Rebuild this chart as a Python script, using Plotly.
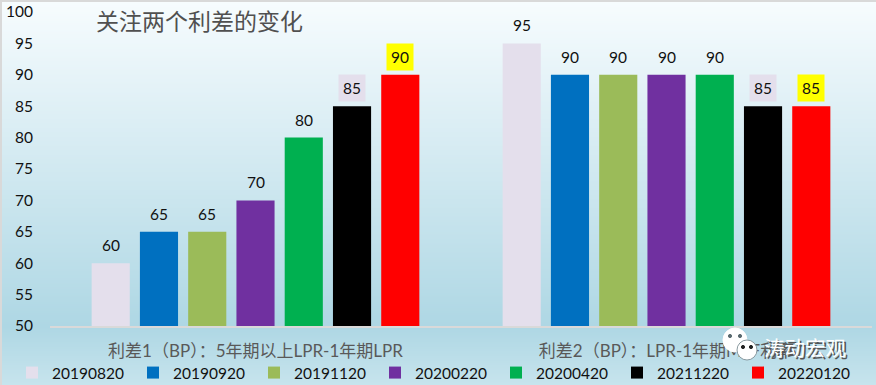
import plotly.graph_objects as go

categories = ["利差1（BP）：5年期以上LPR-1年期LPR", "利差2（BP）：LPR-1年期MLF利率"]
dates = ["20190820", "20190920", "20191120", "20200220", "20200420", "20211220", "20220120"]
values = [[60, 95], [65, 90], [65, 90], [70, 90], [80, 90], [85, 85], [90, 85]]
colors = ["#E4DFEC", "#0070C0", "#9BBB59", "#7030A0", "#00B050", "#000000", "#FF0000"]
label_bg = {5: "#E4DFEC", 6: "#FFFF00"}
title = "关注两个利差的变化"
watermark = "涛动宏观"
W, H = 876, 385
L, R, T, B = 50, 872, 12, 326
FONT = "Lato, Noto Sans CJK SC, sans-serif"
CJK = "Noto Sans CJK SC, sans-serif"
INK = "#111111"


def mix(a, b, t):
    return "rgb(%d,%d,%d)" % tuple(round(a[i] + (b[i] - a[i]) * t) for i in range(3))


def px(x):
    return x / W


def py(y):
    return 1 - y / H


fig = go.Figure()
pitch = 48.3 / ((R - L) / 2)
for i, (d, v, c) in enumerate(zip(dates, values, colors)):
    fig.add_trace(go.Bar(name=d, x=categories, y=v, marker=dict(color=c, line_width=0)))
    for k, n in enumerate(v):
        fig.add_annotation(
            x=k + (i - 3) * pitch, y=n, xref="x", yref="y", text=str(n),
            showarrow=False, yshift=18, borderpad=4,
            bgcolor=label_bg.get(i, "rgba(0,0,0,0)"),
            font=dict(family=FONT, size=15.5, color=INK),
        )

# background gradient and frame
shapes = []
top, mid, end = (247, 252, 254), (174, 215, 228), (199, 228, 237)
for y in range(H):
    col = mix(top, mid, y / B) if y < B else mix(mid, end, (y - B) / (H - B))
    shapes.append(dict(type="rect", xref="paper", yref="paper", layer="below", line_width=0,
                       x0=0, x1=1, y0=py(y + 1), y1=py(y), fillcolor=col))
shapes.append(dict(type="rect", xref="paper", yref="paper", layer="below", line_width=0,
                   x0=0, x1=1, y0=py(2), y1=1, fillcolor="#D9D9D9"))
shapes.append(dict(type="rect", xref="paper", yref="paper", layer="below", line_width=0,
                   x0=0, x1=px(2), y0=0, y1=1, fillcolor="#D9D9D9"))


def circle(cx, cy, r, fill, line=None):
    return dict(type="circle", xref="paper", yref="paper", layer="above",
                x0=px(cx - r), x1=px(cx + r), y0=py(cy + r), y1=py(cy - r), fillcolor=fill,
                line=dict(color=line or fill, width=1))


# watermark icon
shapes += [circle(735, 340, 12, "#FFFFFF"), circle(747, 350, 10, "#FFFFFF", "#8A9AA0"),
           circle(730, 336, 1.6, "#5A6A70"), circle(740, 336, 1.6, "#5A6A70"),
           circle(743, 347, 1.6, "#222222"), circle(751, 347, 1.6, "#222222")]
fig.update_layout(shapes=shapes)

fig.add_annotation(text=title, xref="paper", yref="paper", x=px(94), y=py(20),
                   xanchor="left", yanchor="middle", showarrow=False,
                   font=dict(family=CJK, size=23, color="#505050"))
for dx, dy, col in [(1.5, 1.5, "#555555"), (0, 0, "#FFFFFF")]:
    fig.add_annotation(text=watermark, xref="paper", yref="paper", x=px(805), y=py(347),
                       xanchor="center", yanchor="middle",
                       xshift=dx, yshift=-dy, showarrow=False,
                       font=dict(family=CJK, size=20.5, color=col))

fig.update_layout(
    width=W, height=H, autosize=False, paper_bgcolor="#C7E4ED", plot_bgcolor="rgba(0,0,0,0)",
    margin=dict(l=0, r=0, t=0, b=0, pad=0, autoexpand=False),
    barmode="group", bargap=0.178, bargroupgap=0.21,
    showlegend=True,
    legend=dict(orientation="h", x=px(12), xanchor="left", y=py(356), yanchor="top",
                font=dict(family=FONT, size=15.5, color=INK),
                entrywidth=76, entrywidthmode="pixels", itemwidth=30, bgcolor="rgba(0,0,0,0)"),
    xaxis=dict(type="category", domain=[px(L), px(R)], anchor="y", showline=True, linecolor="#D9D9D9",
               linewidth=2, ticks="", tickfont=dict(family=FONT, size=17, color="#595959"),
               ticklabelstandoff=9),
    yaxis=dict(domain=[py(B), py(T)], anchor="x", range=[50, 100], dtick=5, showgrid=False, zeroline=False,
               showline=False, ticks="", tickfont=dict(family=FONT, size=15.5, color=INK),
               ticklabelstandoff=16),
)
fig.write_html("out.html", config={"displayModeBar": False},
               post_script="document.body.style.margin='0';document.documentElement.style.overflow='hidden';")
